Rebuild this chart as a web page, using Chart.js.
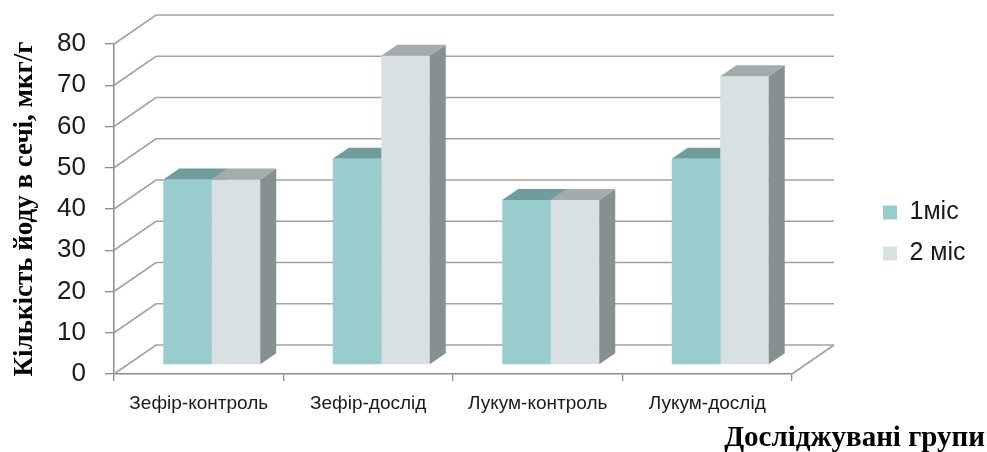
<!DOCTYPE html>
<html>
<head>
<meta charset="utf-8">
<script src="https://cdn.jsdelivr.net/npm/chart.js@4"></script>
<style>
  html, body { margin: 0; padding: 0; background: #fff; }
  #wrap { width: 987px; height: 452px; }
</style>
</head>
<body>
<div id="wrap"><canvas id="chart"></canvas></div>
<script>
var groups = ['Зефір-контроль', 'Зефір-дослід', 'Лукум-контроль', 'Лукум-дослід'];
var month1 = [45, 50, 40, 50];
var month2 = [45, 75, 40, 70];
var seriesNames = ['1міс', '2 міс'];
var yTitle = 'Кількість йоду в сечі, мкг/г';
var xTitle = 'Досліджувані групи';

var frontColors = ['#99cdcd', '#d8e0e2'];
var topColors = ['#6f9d9d', '#a3abab'];
var sideColors = ['#5f8a8a', '#879090'];

var DEPTH = {x: 42, y: -29};      // back wall offset
var BAR_SHIFT = {x: 13, y: -9};   // bars stand a third of the way back
var BAR_DEPTH = {x: 16, y: -11};  // thickness of a bar

function drawFaces(chart, i){
  var ctx = chart.ctx;
  chart.getDatasetMeta(i).data.forEach(function(bar){
    var p = bar.getProps(['x', 'y', 'base', 'width'], true);
    var l = p.x - p.width / 2, r = p.x + p.width / 2;
    ctx.fillStyle = sideColors[i];
    ctx.beginPath();
    ctx.moveTo(r, p.y);
    ctx.lineTo(r + BAR_DEPTH.x, p.y + BAR_DEPTH.y);
    ctx.lineTo(r + BAR_DEPTH.x, p.base + BAR_DEPTH.y);
    ctx.lineTo(r, p.base);
    ctx.closePath();
    ctx.fill();
    ctx.fillStyle = topColors[i];
    ctx.beginPath();
    ctx.moveTo(l, p.y);
    ctx.lineTo(r, p.y);
    ctx.lineTo(r + BAR_DEPTH.x, p.y + BAR_DEPTH.y);
    ctx.lineTo(l + BAR_DEPTH.x, p.y + BAR_DEPTH.y);
    ctx.closePath();
    ctx.fill();
  });
}

// 3d walls, bar sides and tops
var fake3d = {
  id: 'fake3d',
  beforeDatasetsDraw: function(chart){
    var ctx = chart.ctx, a = chart.chartArea, ys = chart.scales.y;
    ctx.save();
    ctx.strokeStyle = '#a2a2a2';
    ctx.lineWidth = 1.6;
    ys.ticks.forEach(function(t){
      var py = ys.getPixelForValue(t.value);
      ctx.beginPath();
      ctx.moveTo(a.left, py);
      ctx.lineTo(a.left + DEPTH.x, py + DEPTH.y);
      ctx.lineTo(a.right + DEPTH.x, py + DEPTH.y);
      ctx.stroke();
    });
    ctx.beginPath();
    ctx.moveTo(a.right, a.bottom);
    ctx.lineTo(a.right + DEPTH.x, a.bottom + DEPTH.y);
    ctx.stroke();
    ctx.restore();
    ctx.save();
    ctx.translate(BAR_SHIFT.x, BAR_SHIFT.y);
    // the left series' faces go under everything
    // (chart.js paints the last dataset first)
    for(var i = 0; i < chart.data.datasets.length - 1; i++) drawFaces(chart, i);
  },
  afterDatasetsDraw: function(chart){
    drawFaces(chart, chart.data.datasets.length - 1);
    chart.ctx.restore();
  },
  afterLayout: function(chart){
    var lg = chart.legend;
    if(!lg) return;
    var w = lg.width, h = lg.height;
    lg.left = 867; lg.right = 867 + w;
    lg.top = 184; lg.bottom = 184 + h;
  },
  afterDraw: function(chart){
    var ctx = chart.ctx;
    ctx.save();
    ctx.font = 'bold 29px "Liberation Serif"';
    ctx.fillStyle = '#000';
    ctx.textAlign = 'right';
    ctx.textBaseline = 'alphabetic';
    ctx.fillText(xTitle, 985, 446);
    ctx.restore();
  }
};

var chart = new Chart(document.getElementById('chart'), {
  type: 'bar',
  data: {
    labels: groups,
    datasets: [
      {label: seriesNames[0], data: month1, backgroundColor: frontColors[0]},
      {label: seriesNames[1], data: month2, backgroundColor: frontColors[1]}
    ]
  },
  options: {
    responsive: true,
    maintainAspectRatio: false,
    animation: false,
    devicePixelRatio: 1,
    layout: {padding: {left: 0, right: 0, top: 44, bottom: 0}},
    datasets: {bar: {categoryPercentage: 0.572, barPercentage: 1, clip: false}},
    plugins: {
      tooltip: {enabled: false},
      legend: {
        position: 'right',
        align: 'start',
        labels: {
          boxWidth: 14, boxHeight: 14, padding: 16,
          color: '#1a1a1a',
          font: {family: '"Liberation Sans", Arial', size: 25}
        }
      }
    },
    scales: {
      x: {
        afterFit: function(s){ s.height = 78; },
        grid: {drawOnChartArea: false, drawTicks: true, tickLength: 7, color: '#8c8c8c', lineWidth: 1.3},
        border: {color: '#8c8c8c', width: 1.5},
        ticks: {
          color: '#1a1a1a', padding: 11, maxRotation: 0, autoSkip: false,
          font: {family: '"Liberation Sans", Arial', size: 19}
        }
      },
      y: {
        min: 0, max: 80,
        afterFit: function(s){ s.width = 114; },
        grid: {drawOnChartArea: false, drawTicks: true, tickLength: 9, color: '#8c8c8c', lineWidth: 1.3},
        border: {color: '#8c8c8c', width: 1.5},
        ticks: {
          stepSize: 10, color: '#1a1a1a', padding: 19,
          font: {family: '"Liberation Sans", Arial', size: 26}
        },
        title: {
          display: true, text: yTitle, color: '#000',
          padding: {top: 9, bottom: 0},
          font: {family: '"Liberation Serif", "Times New Roman"', size: 27, weight: 'bold'}
        }
      }
    }
  },
  plugins: [fake3d]
});

// make the plot end where the front floor ends in the picture
chart.options.layout.padding.right = 987 - 792 - chart.legend.width;
chart.update();
</script>
</body>
</html>
